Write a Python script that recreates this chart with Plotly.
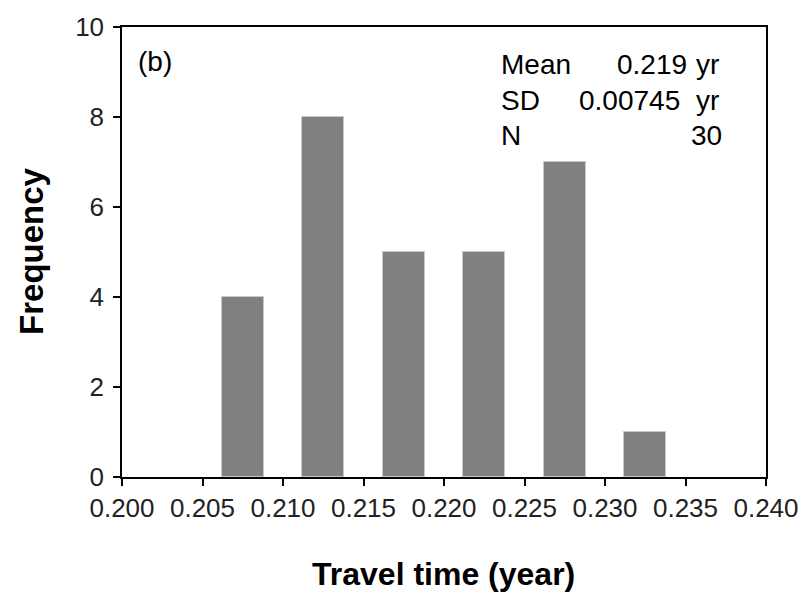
import plotly.graph_objects as go

# Histogram of travel times: bin centres (year) and counts
bin_centers = [0.2075, 0.2125, 0.2175, 0.2225, 0.2275, 0.2325]
counts = [4, 8, 5, 5, 7, 1]
bar_width = 0.0026

x_ticks = [0.200, 0.205, 0.210, 0.215, 0.220, 0.225, 0.230, 0.235, 0.240]
x_tick_text = ["0.200", "0.205", "0.210", "0.215", "0.220", "0.225", "0.230", "0.235", "0.240"]
y_ticks = [0, 2, 4, 6, 8, 10]

stat_labels = ["Mean", "SD", "N"]
stat_values = ["0.219", "0.00745", "30"]
stat_units = ["yr", "yr", ""]

FONT = "Liberation Sans, Arial, sans-serif"

fig = go.Figure()
fig.add_trace(go.Bar(
    x=bin_centers, y=counts, width=bar_width,
    marker=dict(color="#808080", line=dict(color="#c8c8c8", width=1)),
    showlegend=False,
))

# plot area in pixels: x 122..776, y 22..477
L, R, T, B = 122, 35, 22, 117
W, H = 811, 594
pw, ph = W - L - R, H - T - B


def px(x):
    return (x - L) / pw


def py(y):
    return (H - B - y) / ph


annotations = []
# panel label
annotations.append(dict(x=px(136), y=py(57), xref="paper", yref="paper",
                        text="(b)", showarrow=False, xanchor="left", yanchor="middle",
                        font=dict(family=FONT, size=28, color="black")))

# statistics block
rows_y = [60, 96, 132]
value_right = [698, 691, 733]
for lab, val, unit, yy, vr in zip(stat_labels, stat_values, stat_units, rows_y, value_right):
    annotations.append(dict(x=px(505), y=py(yy), xref="paper", yref="paper", text=lab,
                            showarrow=False, xanchor="left", yanchor="middle",
                            font=dict(family=FONT, size=28, color="black")))
    annotations.append(dict(x=px(vr), y=py(yy), xref="paper", yref="paper", text=val,
                            showarrow=False, xanchor="right", yanchor="middle",
                            font=dict(family=FONT, size=28, color="black")))
    if unit:
        annotations.append(dict(x=px(703), y=py(yy), xref="paper", yref="paper", text=unit,
                                showarrow=False, xanchor="left", yanchor="middle",
                                font=dict(family=FONT, size=28, color="black")))

# axis titles
annotations.append(dict(x=px(448), y=py(575), xref="paper", yref="paper",
                        text="<b>Travel time (year)</b>", showarrow=False,
                        xanchor="center", yanchor="middle",
                        font=dict(family=FONT, size=32, color="black")))
annotations.append(dict(x=px(30), y=py(248), xref="paper", yref="paper",
                        text="<b>Frequency</b>", showarrow=False, textangle=-90,
                        xanchor="center", yanchor="middle",
                        font=dict(family=FONT, size=33, color="black")))

fig.update_layout(
    width=W, height=H,
    margin=dict(l=L, r=R, t=T, b=B, pad=0),
    paper_bgcolor="white", plot_bgcolor="white",
    bargap=0,
    annotations=annotations,
    xaxis=dict(range=[0.200, 0.240], tickvals=x_ticks, ticktext=x_tick_text,
               ticks="outside", ticklen=7, tickwidth=1.5, tickcolor="black",
               showline=True, linecolor="black", linewidth=1.5, mirror=True,
               showgrid=False, zeroline=False,
               tickfont=dict(family=FONT, size=26, color="#222")),
    yaxis=dict(range=[0, 10], tickvals=y_ticks,
               ticks="outside", ticklen=7, tickwidth=1.5, tickcolor="black",
               showline=True, linecolor="black", linewidth=1.5, mirror=True,
               showgrid=False, zeroline=False, ticklabelstandoff=4,
               tickfont=dict(family=FONT, size=26, color="#222")),
)

fig.write_html("out.html")
